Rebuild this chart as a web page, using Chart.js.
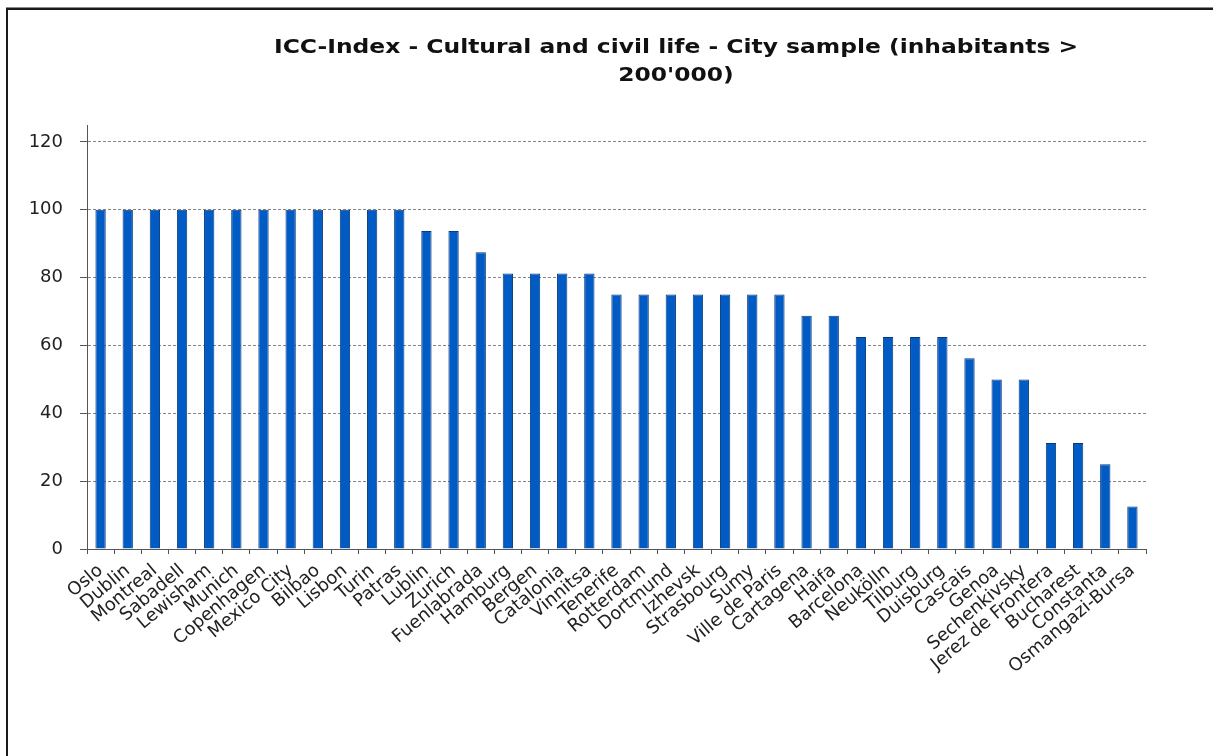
<!DOCTYPE html>
<html>
<head>
<meta charset="utf-8">
<title>ICC-Index - Cultural and civil life</title>
<script src="https://cdn.jsdelivr.net/npm/chart.js@4/dist/chart.umd.min.js"></script>
<style>
  html, body { margin: 0; padding: 0; background: #fff; overflow: hidden; }
  #wrap { position: relative; width: 1213px; height: 756px; }
  #frame {
    position: absolute; left: 6px; top: 8px; right: 0; bottom: 0;
    border-left: 2px solid #1a1a1a; border-top: 2px solid #1a1a1a;
    box-shadow: 0 -1px 0 #8a8a8a; pointer-events: none;
  }
</style>
</head>
<body>
<div id="wrap">
  <canvas id="iccChart"></canvas>
  <div id="frame"></div>
</div>
<script>
// Cities with more than 200'000 inhabitants, sorted by score
const cities = [
  'Oslo', 'Dublin', 'Montreal', 'Sabadell', 'Lewisham', 'Munich', 'Copenhagen',
  'Mexico City', 'Bilbao', 'Lisbon', 'Turin', 'Patras', 'Lublin', 'Zurich',
  'Fuenlabrada', 'Hamburg', 'Bergen', 'Catalonia', 'Vinnitsa', 'Tenerife',
  'Rotterdam', 'Dortmund', 'Izhevsk', 'Strasbourg', 'Sumy', 'Ville de Paris',
  'Cartagena', 'Haifa', 'Barcelona', 'Neukölln', 'Tilburg', 'Duisburg',
  'Cascais', 'Genoa', 'Sechenkivsky', 'Jerez de Frontera', 'Bucharest',
  'Constanta', 'Osmangazi-Bursa'
];

const scores = [
  100, 100, 100, 100, 100, 100, 100,
  100, 100, 100, 100, 100, 93.75, 93.75,
  87.5, 81.25, 81.25, 81.25, 81.25, 75,
  75, 75, 75, 75, 75, 75,
  68.75, 68.75, 62.5, 62.5, 62.5, 62.5,
  56.25, 50, 50, 31.25, 31.25,
  25, 12.5
];

const yTicks = [0, 20, 40, 60, 80, 100, 120];

const titleLines = [
  'ICC-Index - Cultural and civil life - City sample (inhabitants >',
  "200'000)"
];

// Two-line title, centred over the whole frame rather than the plot,
// drawn slightly widened like the original workbook chart
const splitTitle = {
  id: 'splitTitle',
  afterDraw(chart, args, opts) {
    const ctx = chart.ctx;
    ctx.save();
    ctx.fillStyle = '#111';
    ctx.font = 'bold 20px "DejaVu Sans"';
    ctx.textAlign = 'center';
    ctx.textBaseline = 'alphabetic';
    ctx.translate(opts.x, 0);
    ctx.scale(opts.stretch, 1);
    opts.lines.forEach((line, i) => {
      ctx.fillText(line, 0, opts.y + i * opts.lineHeight);
    });
    ctx.restore();
  }
};

const ctx = document.getElementById('iccChart').getContext('2d');
new Chart(ctx, {
  type: 'bar',
  data: {
    labels: cities,
    datasets: [{
      label: 'ICC-Index',
      data: scores,
      backgroundColor: '#005cc4',
      borderColor: '#0b3a7c',
      borderWidth: 1,
      borderSkipped: 'bottom',
      barPercentage: 0.38,
      categoryPercentage: 1
    }]
  },
  options: {
    responsive: true,
    maintainAspectRatio: false,
    animation: false,
    layout: {
      padding: { left: 10, right: 67, top: 125, bottom: 0 }
    },
    plugins: {
      legend: { display: false },
      tooltip: { enabled: false },
      splitTitle: { lines: titleLines, x: 676, y: 53, lineHeight: 28, stretch: 1.17 }
    },
    scales: {
      x: {
        grid: {
          display: true,
          offset: true,
          drawOnChartArea: false,
          drawTicks: true,
          tickLength: 5,
          tickColor: '#555'
        },
        border: { color: '#555', width: 1 },
        ticks: {
          autoSkip: false,
          minRotation: 40,
          maxRotation: 40,
          padding: 6,
          color: '#222',
          font: { family: 'DejaVu Sans', size: 18 }
        },
        afterFit(scale) { scale.height = 207; }
      },
      y: {
        min: 0,
        max: 125,
        afterBuildTicks(scale) {
          scale.ticks = yTicks.map(v => ({ value: v }));
        },
        grid: {
          color: '#858585',
          lineWidth: 1,
          tickLength: 7,
          tickColor: '#555',
          tickBorderDash: []
        },
        border: { color: '#555', width: 1, dash: [3, 2] },
        ticks: {
          padding: 17,
          color: '#222',
          font: { family: 'DejaVu Sans', size: 18 }
        },
        afterFit(scale) { scale.width = 77; }
      }
    }
  },
  plugins: [splitTitle]
});
</script>
</body>
</html>
